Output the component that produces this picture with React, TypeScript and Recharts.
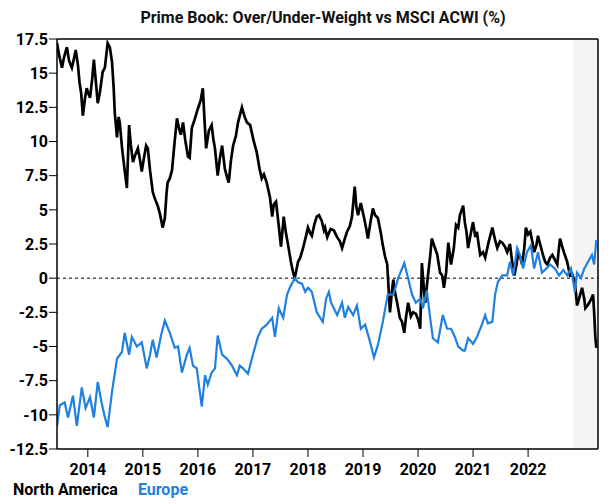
import {
  LineChart,
  Line,
  XAxis,
  YAxis,
  ReferenceLine,
  ReferenceArea,
} from "recharts";

// [year, % over/under-weight]
const northAmerica: [number, number][] = [
  [2013.44, 17.2], [2013.48, 16.3], [2013.53, 15.4], [2013.57, 16.2], [2013.62, 16.9],
  [2013.66, 15.9], [2013.71, 15.4], [2013.75, 16.1], [2013.78, 16.7], [2013.82, 15.6],
  [2013.85, 14.3], [2013.88, 13.5], [2013.91, 11.9], [2013.95, 13.2], [2013.98, 13.9],
  [2014.01, 13.5], [2014.04, 13.2], [2014.08, 14.6], [2014.11, 16.0], [2014.15, 14.2],
  [2014.18, 12.8], [2014.22, 13.6], [2014.27, 15.1], [2014.31, 15.4], [2014.36, 17.2],
  [2014.4, 16.9], [2014.44, 15.8], [2014.47, 13.9], [2014.49, 12.1], [2014.53, 10.3],
  [2014.56, 11.8], [2014.58, 11.4], [2014.62, 9.6], [2014.66, 8.2], [2014.71, 6.6],
  [2014.73, 8.9], [2014.75, 11.2], [2014.78, 9.8], [2014.82, 8.5], [2014.86, 9.0],
  [2014.91, 9.5], [2014.95, 8.6], [2014.98, 7.8], [2015.02, 8.8], [2015.06, 9.7],
  [2015.09, 9.5], [2015.13, 7.9], [2015.18, 6.3], [2015.22, 5.8], [2015.27, 5.3],
  [2015.31, 4.7], [2015.36, 3.7], [2015.4, 4.4], [2015.43, 6.2], [2015.45, 7.0],
  [2015.49, 7.3], [2015.53, 7.9], [2015.58, 10.1], [2015.62, 11.7], [2015.66, 10.9],
  [2015.69, 10.5], [2015.73, 11.4], [2015.77, 10.1], [2015.82, 8.9], [2015.85, 8.8],
  [2015.89, 11.0], [2015.94, 11.6], [2016.0, 12.4], [2016.05, 13.0], [2016.09, 13.9],
  [2016.12, 11.6], [2016.15, 9.5], [2016.2, 10.8], [2016.25, 11.2], [2016.28, 10.2],
  [2016.31, 9.5], [2016.36, 7.5], [2016.4, 8.8], [2016.44, 9.7], [2016.49, 8.0],
  [2016.53, 7.4], [2016.56, 7.0], [2016.6, 8.6], [2016.64, 9.7], [2016.69, 10.4],
  [2016.73, 11.4], [2016.8, 12.5], [2016.85, 11.8], [2016.89, 11.4], [2016.95, 11.2],
  [2017.01, 10.1], [2017.07, 9.2], [2017.12, 8.0], [2017.16, 7.3], [2017.2, 7.6],
  [2017.25, 7.0], [2017.31, 5.9], [2017.35, 4.5], [2017.38, 5.4], [2017.42, 5.6],
  [2017.47, 3.8], [2017.51, 2.3], [2017.56, 4.5], [2017.6, 3.3], [2017.64, 2.4],
  [2017.69, 1.2], [2017.73, 0.4], [2017.76, 0.0], [2017.82, 1.2], [2017.86, 1.5],
  [2017.91, 2.2], [2017.96, 3.0], [2018.0, 3.7], [2018.04, 3.3], [2018.07, 3.1],
  [2018.12, 4.0], [2018.16, 4.5], [2018.2, 4.6], [2018.25, 4.2], [2018.29, 3.5],
  [2018.31, 3.7], [2018.35, 3.0], [2018.41, 3.6], [2018.47, 3.5], [2018.53, 3.0],
  [2018.58, 2.7], [2018.62, 2.2], [2018.67, 2.9], [2018.71, 3.4], [2018.76, 3.8],
  [2018.8, 4.5], [2018.85, 6.7], [2018.88, 5.2], [2018.91, 4.6], [2018.96, 5.5],
  [2019.02, 4.4], [2019.06, 3.6], [2019.09, 2.9], [2019.14, 4.2], [2019.18, 5.1],
  [2019.22, 4.6], [2019.27, 4.4], [2019.32, 3.4], [2019.36, 2.4], [2019.4, 1.6],
  [2019.44, 1.0], [2019.49, -2.5], [2019.52, -1.2], [2019.55, -0.1], [2019.58, -1.0],
  [2019.62, -1.8], [2019.67, -2.9], [2019.71, -3.2], [2019.75, -4.0], [2019.78, -2.9],
  [2019.82, -1.8], [2019.87, -2.8], [2019.91, -2.5], [2019.96, -2.6], [2020.0, -3.0],
  [2020.04, -3.7], [2020.07, 1.1], [2020.1, -0.4], [2020.13, -1.8], [2020.18, 0.2],
  [2020.22, 1.6], [2020.25, 2.9], [2020.3, 2.3], [2020.35, 1.7], [2020.4, 0.4],
  [2020.44, 0.2], [2020.47, -0.7], [2020.51, 0.4], [2020.55, 2.6], [2020.6, 1.0],
  [2020.65, 2.2], [2020.69, 3.9], [2020.73, 3.7], [2020.76, 4.6], [2020.82, 5.3],
  [2020.85, 4.1], [2020.88, 3.4], [2020.91, 2.2], [2020.96, 3.3], [2021.0, 4.1],
  [2021.04, 3.0], [2021.07, 3.4], [2021.1, 2.5], [2021.13, 1.7], [2021.18, 1.9],
  [2021.22, 1.5], [2021.28, 2.6], [2021.35, 3.7], [2021.4, 2.8], [2021.44, 2.2],
  [2021.49, 2.7], [2021.53, 2.6], [2021.58, 2.3], [2021.62, 1.9], [2021.67, 2.5],
  [2021.71, 1.2], [2021.75, 0.2], [2021.79, 1.0], [2021.82, 1.9], [2021.86, 1.5],
  [2021.89, 1.0], [2021.93, 2.2], [2021.96, 3.7], [2022.0, 3.2], [2022.04, 3.4],
  [2022.08, 2.6], [2022.11, 1.9], [2022.15, 2.4], [2022.18, 3.1], [2022.23, 2.3],
  [2022.27, 1.7], [2022.31, 1.2], [2022.35, 1.0], [2022.4, 1.5], [2022.44, 1.7],
  [2022.48, 1.4], [2022.53, 1.0], [2022.56, 2.2], [2022.58, 2.9], [2022.62, 2.3],
  [2022.65, 1.9], [2022.71, 1.2], [2022.76, 0.2], [2022.8, 0.3], [2022.85, -0.3],
  [2022.89, -2.0], [2022.94, -1.3], [2022.98, -0.7], [2023.02, -1.5], [2023.04, -2.2],
  [2023.08, -2.0], [2023.11, -1.8], [2023.15, -1.5], [2023.18, -1.2], [2023.2, -2.5],
  [2023.22, -4.2], [2023.24, -5.1],
];

const europe: [number, number][] = [
  [2013.44, -10.8], [2013.49, -9.3], [2013.58, -9.1], [2013.64, -10.2], [2013.73, -8.6],
  [2013.8, -10.8], [2013.89, -8.0], [2013.96, -9.5], [2014.04, -8.7], [2014.11, -10.2],
  [2014.18, -7.6], [2014.25, -9.1], [2014.31, -10.2], [2014.36, -10.9], [2014.44, -8.3],
  [2014.53, -5.9], [2014.62, -5.4], [2014.67, -4.0], [2014.75, -5.6], [2014.8, -4.3],
  [2014.89, -5.0], [2014.98, -4.7], [2015.07, -6.6], [2015.13, -5.6], [2015.18, -4.5],
  [2015.25, -5.8], [2015.33, -4.2], [2015.4, -3.1], [2015.49, -4.0], [2015.58, -5.1],
  [2015.64, -5.0], [2015.71, -6.9], [2015.8, -5.6], [2015.85, -5.1], [2015.91, -6.4],
  [2015.98, -6.6], [2016.07, -9.4], [2016.13, -7.1], [2016.18, -7.8], [2016.25, -6.9],
  [2016.31, -6.6], [2016.36, -4.2], [2016.44, -5.6], [2016.53, -5.9], [2016.62, -6.4],
  [2016.71, -7.1], [2016.76, -6.4], [2016.82, -6.6], [2016.91, -7.0], [2017.0, -5.6],
  [2017.09, -4.3], [2017.16, -3.7], [2017.25, -3.4], [2017.35, -2.9], [2017.4, -4.3],
  [2017.47, -2.2], [2017.55, -2.9], [2017.62, -1.2], [2017.67, -0.7], [2017.76, 0.0],
  [2017.82, -0.3], [2017.89, -0.4], [2017.95, -1.0], [2018.0, -0.7], [2018.07, -1.0],
  [2018.16, -2.5], [2018.27, -3.2], [2018.33, -1.5], [2018.38, -1.0], [2018.42, -1.8],
  [2018.53, -2.7], [2018.62, -1.8], [2018.67, -2.9], [2018.73, -2.1], [2018.82, -2.7],
  [2018.89, -2.0], [2018.96, -3.7], [2019.04, -3.4], [2019.13, -4.7], [2019.2, -5.8],
  [2019.27, -4.9], [2019.36, -3.2], [2019.45, -1.2], [2019.55, -1.2], [2019.64, 0.0],
  [2019.75, 1.1], [2019.82, 0.0], [2019.89, -1.2], [2019.96, -1.8], [2020.04, -1.5],
  [2020.09, -2.2], [2020.16, -0.9], [2020.22, -2.9], [2020.27, -4.4], [2020.36, -4.7],
  [2020.45, -2.7], [2020.53, -3.7], [2020.6, -3.7], [2020.67, -4.3], [2020.73, -5.0],
  [2020.82, -5.3], [2020.85, -5.3], [2020.91, -4.4], [2021.0, -4.8], [2021.07, -4.3],
  [2021.16, -3.4], [2021.22, -2.7], [2021.27, -3.3], [2021.35, -3.2], [2021.4, -1.2],
  [2021.45, -0.3], [2021.53, 0.2], [2021.62, 0.2], [2021.67, 1.2], [2021.73, 0.2],
  [2021.8, 2.2], [2021.85, 1.7], [2021.91, 0.7], [2021.98, 1.9], [2022.05, 2.4],
  [2022.11, 0.7], [2022.18, 1.9], [2022.25, 0.4], [2022.33, 0.7], [2022.4, 1.0],
  [2022.49, 0.7], [2022.56, 0.2], [2022.64, 0.6], [2022.71, 0.2], [2022.78, 0.7],
  [2022.85, -1.0], [2022.89, 0.4], [2022.96, 0.0], [2023.02, 0.7], [2023.09, 1.2],
  [2023.16, 1.7], [2023.2, 1.0], [2023.24, 2.8],
];

const years = [2014, 2015, 2016, 2017, 2018, 2019, 2020, 2021, 2022];
const yTicks = [-12.5, -10, -7.5, -5, -2.5, 0, 2.5, 5, 7.5, 10, 12.5, 15, 17.5];
const xStart = 2013.44;
const xEnd = 2023.27;
const shadeStart = 2022.82;

const BLUE = "#1f80e0";
const FONT = "Roboto, sans-serif";

const toRows = (pts: [number, number][]) => pts.map(([t, v]) => ({ t, v }));

export default function App() {
  const tick = { fill: "#000", fontSize: 16, fontWeight: 700, fontFamily: FONT };
  return (
    <div
      style={{
        position: "absolute",
        left: 0,
        top: 0,
        width: 610,
        height: 504,
        background: "#fff",
        fontFamily: FONT,
      }}
    >
      <div
        style={{
          position: "absolute",
          top: 10,
          left: 0,
          width: 646,
          textAlign: "center",
          fontSize: 16,
          lineHeight: "16px",
          fontWeight: 700,
          color: "#111",
        }}
      >
        Prime Book: Over/Under-Weight vs MSCI ACWI (%)
      </div>
      <LineChart
        width={610}
        height={504}
        margin={{ top: 39, right: 12, bottom: 25, left: 7 }}
      >
        <XAxis
          type="number"
          dataKey="t"
          domain={[xStart, xEnd]}
          ticks={years}
          allowDataOverflow
          interval={0}
          tick={tick}
          tickSize={8}
          tickMargin={7}
          height={30}
          axisLine={{ stroke: "#000", strokeWidth: 1.5 }}
          tickLine={{ stroke: "#000" }}
        />
        <YAxis
          type="number"
          domain={[-12.5, 17.5]}
          ticks={yTicks}
          interval={0}
          width={50}
          tick={tick}
          tickSize={8}
          tickMargin={1}
          axisLine={{ stroke: "#000", strokeWidth: 1.5 }}
          tickLine={{ stroke: "#000" }}
        />
        <ReferenceArea
          x1={shadeStart}
          x2={xEnd}
          y1={-12.5}
          y2={17.5}
          fill="#f4f4f4"
          fillOpacity={1}
          stroke="none"
        />
        <ReferenceLine y={17.5} stroke="#000" strokeWidth={1.5} />
        <ReferenceLine x={xEnd} stroke="#000" strokeWidth={1.5} />
        <ReferenceLine y={0} stroke="#000" strokeDasharray="3 3" />
        <Line
          data={toRows(northAmerica)}
          dataKey="v"
          type="linear"
          stroke="#000"
          strokeWidth={2.7}
          dot={false}
          isAnimationActive={false}
        />
        <Line
          data={toRows(europe)}
          dataKey="v"
          type="linear"
          stroke={BLUE}
          strokeWidth={2.2}
          dot={false}
          isAnimationActive={false}
        />
      </LineChart>
      <div
        style={{
          position: "absolute",
          top: 482,
          left: 13,
          fontSize: 16,
          lineHeight: "16px",
          fontWeight: 700,
          display: "flex",
          gap: 20,
        }}
      >
        <span style={{ color: "#000" }}>North America</span>
        <span style={{ color: BLUE }}>Europe</span>
      </div>
    </div>
  );
}
